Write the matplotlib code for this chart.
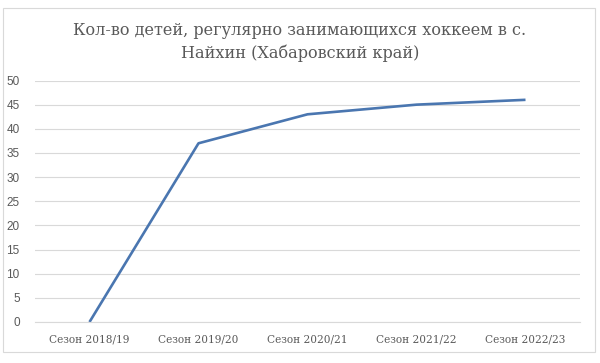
import matplotlib
matplotlib.use("Agg")
import matplotlib.pyplot as plt
from matplotlib.patches import Rectangle

categories = ["Сезон 2018/19", "Сезон 2019/20", "Сезон 2020/21", "Сезон 2021/22", "Сезон 2022/23"]
values = [0, 37, 43, 45, 46]
yticks = [0, 5, 10, 15, 20, 25, 30, 35, 40, 45, 50]
title = "Кол-во детей, регулярно занимающихся хоккеем в с.\nНайхин (Хабаровский край)"

fig = plt.figure(figsize=(6, 3.63), dpi=100)
fig.patch.set_facecolor("white")
fig.patches.append(Rectangle((3/600, 1-352/363), 592/600, 344/363, transform=fig.transFigure,
                             fill=False, edgecolor="#D9D9D9", linewidth=0.8))

ax = fig.add_axes([35/600, 41/363, 545/600, 241.5/363])
x = list(range(len(categories)))
ax.plot(x, values, color="#4A76B0", linewidth=1.9, solid_capstyle="butt")
ax.set_xlim(-0.5, len(categories) - 0.5)
ax.set_ylim(0, 50)
ax.set_yticks(yticks)
ax.set_xticks(x)
ax.set_xticklabels(categories, family="DejaVu Serif", fontsize=7.6, color="#595959")
ax.set_yticklabels([str(v) for v in yticks], family="Liberation Sans", fontsize=8.5, color="#595959")
ax.tick_params(axis="both", length=0)
ax.tick_params(axis="y", pad=11)
ax.tick_params(axis="x", pad=9)
ax.grid(axis="y", color="#D9D9D9", linewidth=0.8)
ax.set_axisbelow(True)
for s in ["top", "right", "left"]:
    ax.spines[s].set_visible(False)
ax.spines["bottom"].set_color("#D9D9D9")
ax.spines["bottom"].set_linewidth(0.8)

fig.text(0.5, 1-42/363, title, ha="center", va="center", family="DejaVu Serif",
         fontsize=11.6, color="#595959", linespacing=1.42)

fig.savefig("out.png", dpi=100)
